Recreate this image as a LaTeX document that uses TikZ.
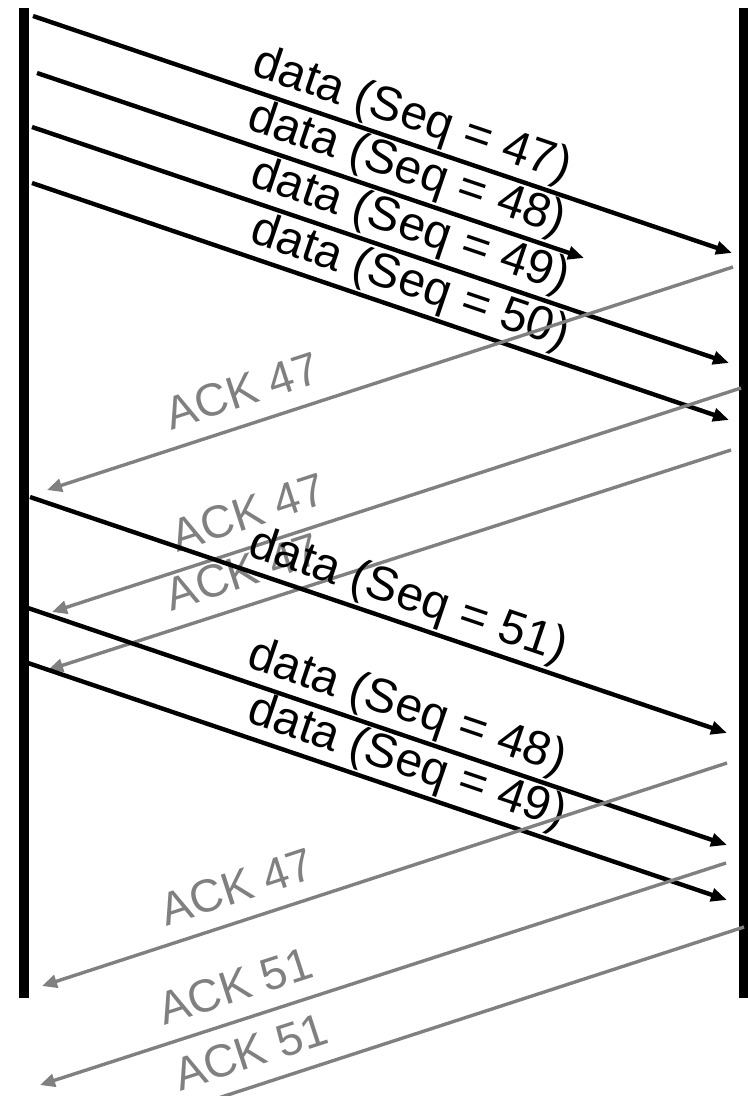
\documentclass[tikz,border=0pt]{standalone}
\usepackage{fontspec}
\setmainfont{Liberation Sans}
\usepackage{tikz}
\usetikzlibrary{arrows.meta}
\definecolor{ackgray}{RGB}{128,128,128}

\begin{document}
\begin{tikzpicture}[x=0.5pt,y=-0.5pt,
		timeline/.style={line width=5pt},
		datamsg/.style={line width=2.2pt,-{Triangle[length=8pt,width=6.5pt]}},
		ackmsg/.style={line width=1.7pt,draw=ackgray,-{Triangle[length=7.5pt,width=6.5pt]}},
		datalabel/.style={sloped,above,inner sep=1pt,pos=0.53,font=\fontsize{24}{28}\selectfont},
		acklabel/.style={sloped,above,inner sep=8pt,pos=0.7,text=ackgray,font=\fontsize{23}{27}\selectfont}
		]
		\useasboundingbox (0,0) rectangle (748,1096);
		\clip (0,0) rectangle (748,1096);
		
		\coordinate (Ltop) at (23.5,8);
		\coordinate (Lbot) at (23.5,998);
		\coordinate (Rtop) at (743.5,8);
		\coordinate (Rbot) at (743.5,998);
		\draw[timeline] (Ltop) -- (Lbot);
		\draw[timeline] (Rtop) -- (Rbot);
		
		\coordinate (D1s) at (33,16);
		\coordinate (D1e) at (732,253);
		\draw[datamsg] (D1s) -- node[datalabel](T1){data (Seq = 47)} (D1e);
		\coordinate (D2s) at (37,73);
		\coordinate (D2e) at (584,258);
		\draw[datamsg] (D2s) -- node[datalabel, pos=0.66](T2){data (Seq = 48)} (D2e);
		\coordinate (D3s) at (32,127);
		\coordinate (D3e) at (729,363);
		\draw[datamsg] (D3s) -- node[datalabel](T3){data (Seq = 49)} (D3e);
		\coordinate (D4s) at (32,183);
		\coordinate (D4e) at (729,420);
		\draw[datamsg] (D4s) -- node[datalabel](T4){data (Seq = 50)} (D4e);
		
		\coordinate (A1s) at (733,267);
		\coordinate (A1e) at (47,490);
		\draw[ackmsg] (A1s) -- node[acklabel](K1){ACK 47} (A1e);
		\coordinate (A2s) at (741,388);
		\coordinate (A2e) at (52,612);
		\draw[ackmsg] (A2s) -- node[acklabel](K2){ACK 47} (A2e);
		\coordinate (A3s) at (731,450);
		\coordinate (A3e) at (48,670);
		\draw[ackmsg] (A3s) -- node[acklabel](K3){ACK 47} (A3e);
		
		\coordinate (D5s) at (30,497);
		\coordinate (D5e) at (727,733);
		\draw[datamsg] (D5s) -- node[datalabel](T5){data (Seq = 51)} (D5e);
		\coordinate (D6s) at (28,608);
		\coordinate (D6e) at (727,845);
		\draw[datamsg] (D6s) -- node[datalabel](T6){data (Seq = 48)} (D6e);
		\coordinate (D7s) at (28,663);
		\coordinate (D7e) at (727,900);
		\draw[datamsg] (D7s) -- node[datalabel](T7){data (Seq = 49)} (D7e);
		
		\coordinate (A4s) at (727,763);
		\coordinate (A4e) at (42,986);
		\draw[ackmsg] (A4s) -- node[acklabel](K4){ACK 47} (A4e);
		\coordinate (A5s) at (726,863);
		\coordinate (A5e) at (40,1085);
		\draw[ackmsg] (A5s) -- node[acklabel](K5){ACK 51} (A5e);
		\coordinate (A6s) at (744,927);
		\coordinate (A6e) at (40,1156);
		\draw[ackmsg] (A6s) -- node[acklabel, pos=0.686](K6){ACK 51} (A6e);
	\end{tikzpicture}
\end{document}
